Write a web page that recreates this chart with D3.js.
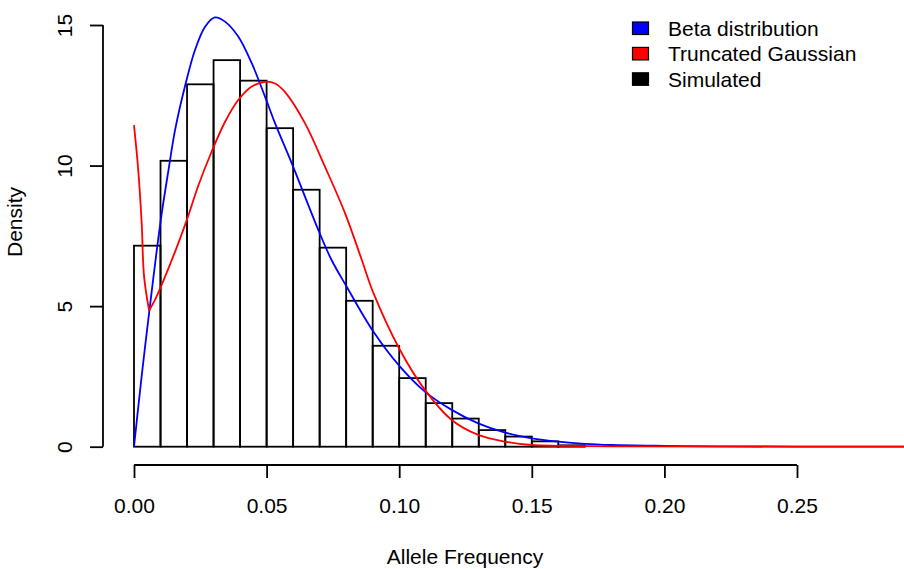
<!DOCTYPE html>
<html>
<head>
<meta charset="utf-8">
<script src="https://cdn.jsdelivr.net/npm/d3@7"></script>
<style>
  html, body { margin: 0; padding: 0; background: #fff; }
  svg { display: block; }
  text { font-family: "Liberation Sans", Arial, sans-serif; fill: #000; }
</style>
</head>
<body>
<svg id="chart" width="904" height="569"></svg>
<script>
// ---- data ----
const binStarts = [0.00,0.01,0.02,0.03,0.04,0.05,0.06,0.07,0.08,0.09,0.10,0.11,0.12,0.13,0.14,0.15,0.16];
const binWidth = 0.01;
const simulatedDensity = [7.15,10.17,12.89,13.75,13.02,11.33,9.14,7.08,5.19,3.59,2.44,1.55,1.00,0.59,0.36,0.19,0.05];

const betaX = [0,0.003,0.0058,0.010,0.013,0.0155,0.0192,0.023,0.0268,0.0305,0.0343,0.0393,0.0444,0.0494,0.0532,0.0595,0.0695,0.0745,0.0802,0.0903,0.1003,0.1097,0.1198,0.1298,0.140,0.150,0.160,0.170,0.180,0.200,0.220,0.250,0.300];
const betaY = [0,2.6,4.84,8.0,9.84,11.27,12.81,14.11,14.94,15.27,15.12,14.59,13.64,12.45,11.5,10.08,7.71,6.64,5.69,4.09,2.85,1.96,1.31,0.83,0.50,0.30,0.18,0.10,0.06,0.03,0.012,0.005,0.001];

const gaussX = [0,0.0016,0.0029,0.0038,0.0057,0.0079,0.0104,0.0155,0.0199,0.0243,0.0293,0.0343,0.0393,0.0444,0.0494,0.0532,0.0569,0.0645,0.072,0.0796,0.0859,0.0903,0.1003,0.1097,0.1198,0.1298,0.140,0.150,0.160,0.180,0.300];
const gaussY = [11.44,9.84,7.95,6.05,4.84,5.22,5.75,6.94,8.06,9.30,10.50,11.55,12.33,12.81,12.98,12.92,12.62,11.5,9.96,8.3,6.64,5.46,3.44,2.02,0.95,0.42,0.18,0.06,0.03,0.01,0.005];
const gaussKinkIndex = 4; // sharp minimum of the truncated Gaussian curve

const xTicks = [0.00,0.05,0.10,0.15,0.20,0.25];
const yTicks = [0,5,10,15];
const legendLabels = ["Beta distribution","Truncated Gaussian","Simulated"];
const legendColors = ["#0000ff","#ff0000","#000000"];

// ---- drawing ----
const svg = d3.select("#chart");
const FS = 21;
const x = d3.scaleLinear().domain([0, 0.25]).range([134, 797]);
const y = d3.scaleLinear().domain([0, 15]).range([446.7, 25]);

// histogram bars
svg.append("g").selectAll("rect")
  .data(binStarts.map((b, i) => ({b, d: simulatedDensity[i]})))
  .join("rect")
  .attr("x", d => x(d.b))
  .attr("y", d => y(d.d))
  .attr("width", d => x(d.b + binWidth) - x(d.b))
  .attr("height", d => y(0) - y(d.d))
  .attr("fill", "none")
  .attr("stroke", "#000")
  .attr("stroke-width", 1.8);

// curves
const smooth = d3.line().x(d => x(d[0])).y(d => y(d[1])).curve(d3.curveCatmullRom.alpha(0.5));
const straight = d3.line().x(d => x(d[0])).y(d => y(d[1]));
svg.append("path")
  .attr("d", smooth(betaX.map((v, i) => [v, betaY[i]])))
  .attr("fill", "none").attr("stroke", "#0000ff").attr("stroke-width", 1.8);
const gPts = gaussX.map((v, i) => [v, gaussY[i]]);
svg.append("path")
  .attr("d", smooth(gPts.slice(0, gaussKinkIndex + 1)))
  .attr("fill", "none").attr("stroke", "#ff0000").attr("stroke-width", 1.8);
svg.append("path")
  .attr("d", smooth(gPts.slice(gaussKinkIndex)))
  .attr("fill", "none").attr("stroke", "#ff0000").attr("stroke-width", 1.8);

// x axis
const xAxisY = 465;
const xAxis = d3.axisBottom(x).tickValues(xTicks).tickSizeOuter(0).tickSizeInner(13)
  .tickFormat(d3.format(".2f"));
const gx = svg.append("g").attr("transform", `translate(0,${xAxisY})`).call(xAxis);
gx.select(".domain").attr("stroke-width", 1.8).attr("d", `M${x(0)},0H${x(0.25)}`);
gx.selectAll(".tick line").attr("stroke-width", 1.8);
gx.selectAll(".tick text").attr("font-size", FS).attr("font-family", '"Liberation Sans", Arial, sans-serif').attr("dy", null).attr("y", 48);

// y axis
const yAxisX = 103;
const yAxis = d3.axisLeft(y).tickValues(yTicks).tickSizeOuter(0).tickSizeInner(13).tickFormat(d3.format("d"));
const gy = svg.append("g").attr("transform", `translate(${yAxisX},0)`).call(yAxis);
gy.select(".domain").attr("stroke-width", 1.8).attr("d", `M0,${y(0)}V${y(15)}`);
gy.selectAll(".tick line").attr("stroke-width", 1.8);
gy.selectAll(".tick text")
  .attr("font-size", FS).attr("font-family", '"Liberation Sans", Arial, sans-serif')
  .attr("x", null).attr("dy", null)
  .attr("text-anchor", "middle")
  .attr("transform", "translate(-31,0) rotate(-90)");

// axis titles
svg.append("text").attr("x", x(0.125) - 0.5).attr("y", 564).attr("text-anchor", "middle")
  .attr("font-size", FS).text("Allele Frequency");
svg.append("text").attr("transform", "translate(22,222) rotate(-90)").attr("text-anchor", "middle")
  .attr("font-size", FS).text("Density");

// legend
const lg = svg.append("g");
legendLabels.forEach((lab, i) => {
  const by = 36 + i * 25.4;
  lg.append("rect").attr("x", 632.5).attr("y", by - 14).attr("width", 16).attr("height", 12.5)
    .attr("fill", legendColors[i]).attr("stroke", "#000").attr("stroke-width", 1.2);
  lg.append("text").attr("x", 668).attr("y", by).attr("font-size", FS).text(lab);
});
</script>
</body>
</html>
